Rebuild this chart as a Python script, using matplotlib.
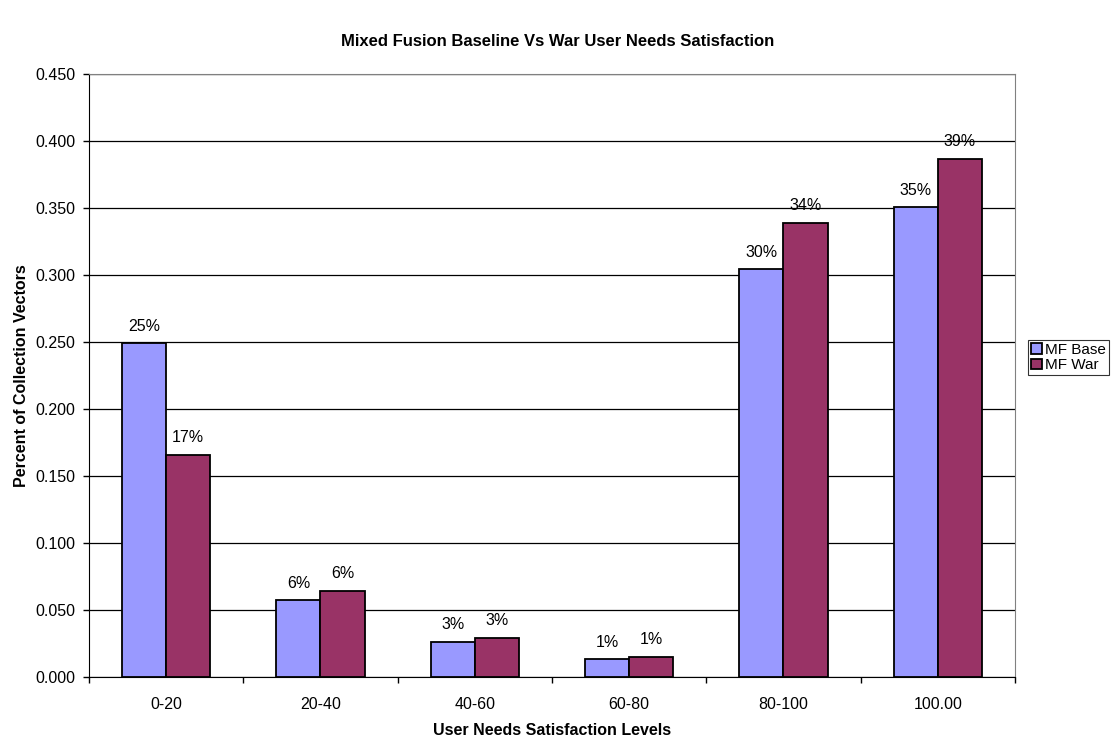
import matplotlib
matplotlib.use("Agg")
import matplotlib.pyplot as plt
import numpy as np

categories = ["0-20", "20-40", "40-60", "60-80", "80-100", "100.00"]
mf_base = [0.249, 0.0572, 0.0263, 0.0132, 0.3043, 0.3504]
mf_war = [0.1659, 0.0642, 0.0293, 0.0149, 0.3388, 0.3868]
y_ticks = [0.0, 0.05, 0.10, 0.15, 0.20, 0.25, 0.30, 0.35, 0.40, 0.45]

plt.rcParams["font.family"] = ["Liberation Sans", "DejaVu Sans"]
fs = 11.5

fig = plt.figure(figsize=(11.19, 7.4), dpi=100)
ax = fig.add_axes([0.0795, 0.085, 0.8275, 0.815])

x = np.arange(len(categories))
w = 0.286
b1 = ax.bar(x - w / 2, mf_base, w, color="#9999FF", edgecolor="black",
            linewidth=1.3, label="MF Base", zorder=3)
b2 = ax.bar(x + w / 2, mf_war, w, color="#993366", edgecolor="black",
            linewidth=1.3, label="MF War", zorder=3)

for bars, vals in [(b1, mf_base), (b2, mf_war)]:
    for r, v in zip(bars, vals):
        ax.annotate("{:.0%}".format(v), (r.get_x() + r.get_width() / 2, v),
                    xytext=(0, 7), textcoords="offset points",
                    ha="center", va="bottom", fontsize=fs)

ax.set_xlim(-0.5, len(categories) - 0.5)
ax.set_ylim(0, 0.45)
ax.set_yticks(y_ticks)
ax.set_yticklabels(["%.3f" % t for t in y_ticks], fontsize=fs)
ax.yaxis.grid(True, color="black", linewidth=0.9, zorder=0)

ax.set_xticks(x)
ax.set_xticklabels(categories, fontsize=fs)
ax.set_xticks(np.arange(-0.5, len(categories)), minor=True)
ax.tick_params(axis="x", which="major", length=0, pad=14)
ax.tick_params(axis="x", which="minor", length=4.5, width=1, direction="out")
ax.tick_params(axis="y", length=4.5, width=1, direction="out", pad=5.5)

for s in ["top", "right"]:
    ax.spines[s].set_color("#808080")
for s in ["left", "bottom"]:
    ax.spines[s].set_color("black")

ax.set_xlabel("User Needs Satisfaction Levels", fontsize=fs, fontweight="bold",
              labelpad=8)
ax.set_ylabel("Percent of Collection Vectors", fontsize=fs, fontweight="bold",
              labelpad=4)
fig.suptitle("Mixed Fusion Baseline Vs War User Needs Satisfaction",
             fontsize=12, fontweight="bold", x=0.498, y=0.954)

leg = ax.legend(loc="center left", bbox_to_anchor=(1.014, 0.53), fontsize=11,
                frameon=True, fancybox=False, edgecolor="black",
                handlelength=0.7, handleheight=0.7, handletextpad=0.25,
                borderpad=0.2, labelspacing=0.1, borderaxespad=0)
leg.get_frame().set_linewidth(0.8)

fig.savefig("out.png", dpi=100)
